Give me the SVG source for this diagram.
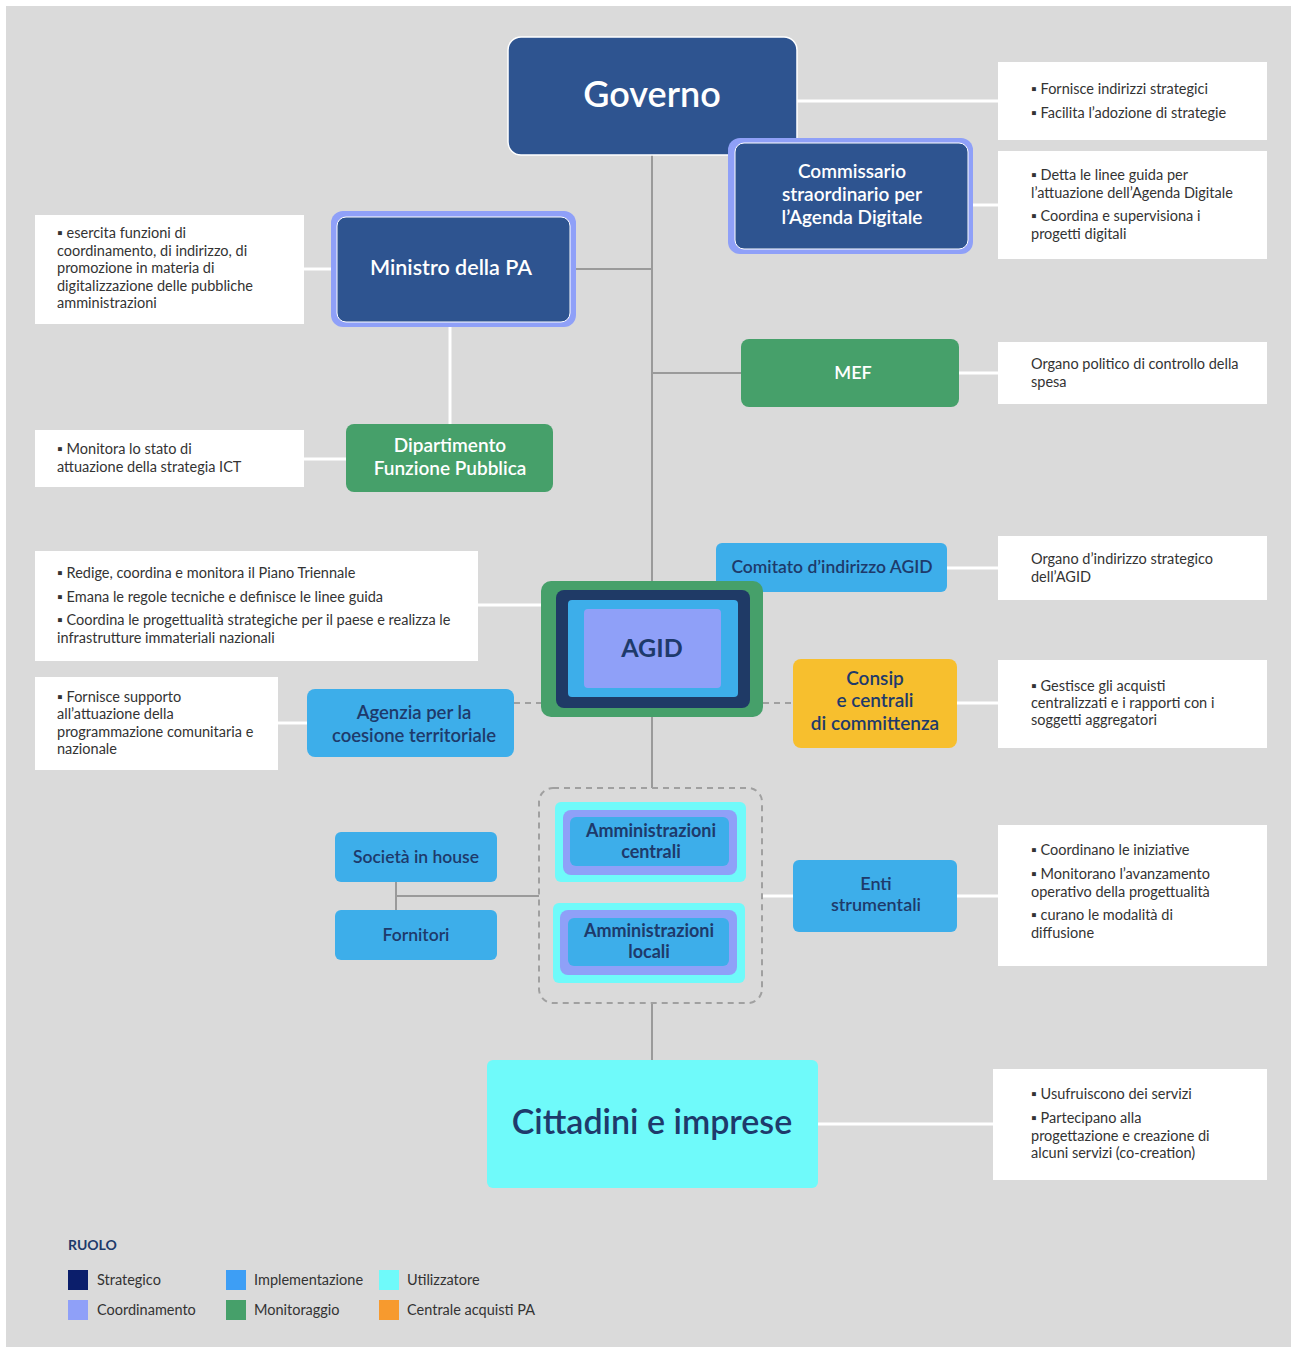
<svg xmlns="http://www.w3.org/2000/svg" width="1297" height="1353" viewBox="0 0 1297 1353">
<style>
text{font-family:Lato,"Open Sans","Liberation Sans",sans-serif}
.desc{font-size:14.5px;fill:#333}
.box{fill:#ffffff}
.w{fill:#ffffff;text-anchor:middle;font-weight:600}
.d{fill:#1e3a6b;text-anchor:middle;font-weight:600}
.b{font-weight:bold}
.glink{stroke:#9a9a9a;stroke-width:2;fill:none}
.wlink{stroke:#ffffff;stroke-width:3;fill:none}
.dash{stroke:#a0a0a0;stroke-width:2;stroke-dasharray:6 5;fill:none}
.navy{fill:#2e5490}
.lav{fill:#8fa0f8}
.green{fill:#46a06a}
.blue{fill:#3daeea}
.cyan{fill:#6ffafa}
.yellow{fill:#f7bf2e}
</style>
<rect x="0" y="0" width="1297" height="1353" fill="#ffffff"/>
<rect x="6" y="6" width="1285" height="1341" fill="#dadada"/>

<g id="connectors">
<line class="glink" x1="652" y1="155" x2="652" y2="583"/>
<line class="glink" x1="652" y1="717" x2="652" y2="788"/>
<line class="glink" x1="652" y1="1003" x2="652" y2="1060"/>
<line class="glink" x1="576" y1="269" x2="652" y2="269"/>
<line class="glink" x1="652" y1="373" x2="741" y2="373"/>
<line class="glink" x1="396" y1="882" x2="396" y2="910"/>
<line class="glink" x1="396" y1="896" x2="539" y2="896"/>
<line class="dash" x1="514" y1="703" x2="541" y2="703"/>
<line class="dash" x1="763" y1="703" x2="793" y2="703"/>
<line class="wlink" x1="797" y1="101" x2="998" y2="101"/>
<line class="wlink" x1="973" y1="205" x2="998" y2="205"/>
<line class="wlink" x1="304" y1="269" x2="331" y2="269"/>
<line class="wlink" x1="450" y1="327" x2="450" y2="424"/>
<line class="wlink" x1="304" y1="459" x2="346" y2="459"/>
<line class="wlink" x1="959" y1="373" x2="998" y2="373"/>
<line class="wlink" x1="947" y1="568" x2="998" y2="568"/>
<line class="wlink" x1="478" y1="605" x2="541" y2="605"/>
<line class="wlink" x1="278" y1="723" x2="307" y2="723"/>
<line class="wlink" x1="957" y1="703" x2="998" y2="703"/>
<line class="wlink" x1="762" y1="896" x2="793" y2="896"/>
<line class="wlink" x1="957" y1="896" x2="998" y2="896"/>
<line class="wlink" x1="818" y1="1124" x2="993" y2="1124"/>
</g>

<g id="governo">
<rect x="508" y="37" width="289" height="118" rx="13" class="navy" stroke="#ffffff" stroke-width="1.5"/>
<text x="652" y="107" class="w" font-size="36">Governo</text>
</g>
<g id="governo-desc">
<rect x="998" y="62" width="269" height="78" class="box"/>
<text class="desc" x="1031" y="94">▪ Fornisce indirizzi strategici</text>
<text class="desc" x="1031" y="118">▪ Facilita l’adozione di strategie</text>
</g>

<g id="commissario">
<rect x="728" y="138" width="245" height="116" rx="12" class="lav"/>
<rect x="735" y="143" width="233" height="106" rx="9" class="navy" stroke="#ffffff" stroke-width="1"/>
<text class="w" font-size="19" x="852" y="178">Commissario</text>
<text class="w" font-size="19" x="852" y="201">straordinario per</text>
<text class="w" font-size="19" x="852" y="224">l’Agenda Digitale</text>
</g>
<g id="commissario-desc">
<rect x="998" y="151" width="269" height="108" class="box"/>
<text class="desc" x="1031" y="180">▪ Detta le linee guida per</text>
<text class="desc" x="1031" y="198">l’attuazione dell’Agenda Digitale</text>
<text class="desc" x="1031" y="221">▪ Coordina e supervisiona i</text>
<text class="desc" x="1031" y="239">progetti digitali</text>
</g>

<g id="ministro">
<rect x="331" y="211" width="245" height="116" rx="12" class="lav"/>
<rect x="337" y="217" width="233" height="105" rx="9" class="navy" stroke="#ffffff" stroke-width="1"/>
<text class="w" font-size="21.5" x="451" y="275">Ministro della PA</text>
</g>
<g id="ministro-desc">
<rect x="35" y="215" width="269" height="109" class="box"/>
<text class="desc" x="57" y="238">▪ esercita funzioni di</text>
<text class="desc" x="57" y="256">coordinamento, di indirizzo, di</text>
<text class="desc" x="57" y="273">promozione in materia di</text>
<text class="desc" x="57" y="291">digitalizzazione delle pubbliche</text>
<text class="desc" x="57" y="308">amministrazioni</text>
</g>

<g id="dipartimento">
<rect x="346" y="424" width="207" height="68" rx="8" class="green"/>
<text class="w" font-size="19" x="450" y="452">Dipartimento</text>
<text class="w" font-size="19" x="450" y="475">Funzione Pubblica</text>
</g>
<g id="dipartimento-desc">
<rect x="35" y="430" width="269" height="57" class="box"/>
<text class="desc" x="57" y="454">▪ Monitora lo stato di</text>
<text class="desc" x="57" y="472">attuazione della strategia ICT</text>
</g>

<g id="mef">
<rect x="741" y="339" width="218" height="68" rx="8" class="green"/>
<text class="w" font-size="18" x="853" y="379">MEF</text>
</g>
<g id="mef-desc">
<rect x="998" y="342" width="269" height="62" class="box"/>
<text class="desc" x="1031" y="369">Organo politico di controllo della</text>
<text class="desc" x="1031" y="387">spesa</text>
</g>

<g id="comitato">
<rect x="716" y="543" width="231" height="49" rx="6" class="blue"/>
<text class="d" font-size="17.5" x="832" y="573">Comitato d’indirizzo AGID</text>
</g>
<g id="comitato-desc">
<rect x="998" y="536" width="269" height="64" class="box"/>
<text class="desc" x="1031" y="564">Organo d’indirizzo strategico</text>
<text class="desc" x="1031" y="582">dell’AGID</text>
</g>

<g id="agid">
<rect x="541" y="581" width="222" height="136" rx="10" class="green"/>
<rect x="556" y="590" width="194" height="118" rx="8" fill="#1f3a66"/>
<rect x="568" y="600" width="170" height="97" rx="4" class="blue"/>
<rect x="584" y="609" width="137" height="79" rx="4" class="lav"/>
<text class="d b" font-size="25" x="652" y="657">AGID</text>
</g>
<g id="agid-desc">
<rect x="35" y="551" width="443" height="110" class="box"/>
<text class="desc" x="57" y="578">▪ Redige, coordina e monitora il Piano Triennale</text>
<text class="desc" x="57" y="602">▪ Emana le regole tecniche e definisce le linee guida</text>
<text class="desc" x="57" y="625">▪ Coordina le progettualità strategiche per il paese e realizza  le</text>
<text class="desc" x="57" y="643">infrastrutture immateriali nazionali</text>
</g>

<g id="agenzia">
<rect x="307" y="689" width="207" height="68" rx="8" class="blue"/>
<text class="d" font-size="18.5" x="414" y="719">Agenzia per la</text>
<text class="d" font-size="18.5" x="414" y="742">coesione territoriale</text>
</g>
<g id="agenzia-desc">
<rect x="35" y="677" width="243" height="93" class="box"/>
<text class="desc" x="57" y="702">▪ Fornisce supporto</text>
<text class="desc" x="57" y="719">all’attuazione della</text>
<text class="desc" x="57" y="737">programmazione comunitaria e</text>
<text class="desc" x="57" y="754">nazionale</text>
</g>

<g id="consip">
<rect x="793" y="659" width="164" height="89" rx="8" class="yellow"/>
<text class="d" font-size="19" x="875" y="685">Consip</text>
<text class="d" font-size="19" x="875" y="707">e centrali</text>
<text class="d" font-size="19" x="875" y="730">di committenza</text>
</g>
<g id="consip-desc">
<rect x="998" y="660" width="269" height="88" class="box"/>
<text class="desc" x="1031" y="691">▪ Gestisce gli acquisti</text>
<text class="desc" x="1031" y="708">centralizzati e i rapporti con i</text>
<text class="desc" x="1031" y="725">soggetti aggregatori</text>
</g>

<g id="amministrazioni-group">
<rect x="539" y="788" width="223" height="215" rx="14" class="dash"/>
</g>
<g id="amm-centrali">
<rect x="555" y="802" width="191" height="80" rx="6" class="cyan"/>
<rect x="563" y="810" width="174" height="65" rx="8" class="lav"/>
<rect x="570" y="817" width="159" height="49" rx="6" class="blue"/>
<text class="d b" font-size="18" x="651" y="837">Amministrazioni</text>
<text class="d b" font-size="18" x="651" y="858">centrali</text>
</g>
<g id="amm-locali">
<rect x="553" y="903" width="192" height="80" rx="6" class="cyan"/>
<rect x="560" y="910" width="177" height="65" rx="8" class="lav"/>
<rect x="568" y="918" width="161" height="48" rx="6" class="blue"/>
<text class="d b" font-size="18" x="649" y="937">Amministrazioni</text>
<text class="d b" font-size="18" x="649" y="958">locali</text>
</g>

<g id="societa">
<rect x="335" y="832" width="162" height="50" rx="6" class="blue"/>
<text class="d" font-size="17.5" x="416" y="863">Società in house</text>
</g>
<g id="fornitori">
<rect x="335" y="910" width="162" height="50" rx="6" class="blue"/>
<text class="d" font-size="17.5" x="416" y="941">Fornitori</text>
</g>

<g id="enti">
<rect x="793" y="860" width="164" height="72" rx="6" class="blue"/>
<text class="d" font-size="18" x="876" y="890">Enti</text>
<text class="d" font-size="18" x="876" y="911">strumentali</text>
</g>
<g id="enti-desc">
<rect x="998" y="825" width="269" height="141" class="box"/>
<text class="desc" x="1031" y="855">▪ Coordinano le iniziative</text>
<text class="desc" x="1031" y="879">▪ Monitorano l’avanzamento</text>
<text class="desc" x="1031" y="897">operativo della progettualità</text>
<text class="desc" x="1031" y="920">▪ curano le modalità di</text>
<text class="desc" x="1031" y="938">diffusione</text>
</g>

<g id="cittadini">
<rect x="487" y="1060" width="331" height="128" rx="6" class="cyan"/>
<text class="d" font-size="34" x="652" y="1134">Cittadini e imprese</text>
</g>
<g id="cittadini-desc">
<rect x="993" y="1069" width="274" height="111" class="box"/>
<text class="desc" x="1031" y="1099">▪ Usufruiscono dei servizi</text>
<text class="desc" x="1031" y="1123">▪ Partecipano alla</text>
<text class="desc" x="1031" y="1141">progettazione e creazione di</text>
<text class="desc" x="1031" y="1158">alcuni servizi (co-creation)</text>
</g>

<g id="legend">
<text x="68" y="1250" font-size="14" font-weight="bold" fill="#1e3a6b">RUOLO</text>
<rect x="68" y="1270" width="20" height="20" fill="#0b1e6b"/>
<text class="desc" x="97" y="1285">Strategico</text>
<rect x="68" y="1300" width="20" height="20" fill="#8fa0f8"/>
<text class="desc" x="97" y="1315">Coordinamento</text>
<rect x="226" y="1270" width="20" height="20" fill="#3d9ef5"/>
<text class="desc" x="254" y="1285">Implementazione</text>
<rect x="226" y="1300" width="20" height="20" fill="#46a06a"/>
<text class="desc" x="254" y="1315">Monitoraggio</text>
<rect x="379" y="1270" width="20" height="20" fill="#6ffafa"/>
<text class="desc" x="407" y="1285">Utilizzatore</text>
<rect x="379" y="1300" width="20" height="20" fill="#f79a2e"/>
<text class="desc" x="407" y="1315">Centrale acquisti PA</text>
</g>
</svg>
